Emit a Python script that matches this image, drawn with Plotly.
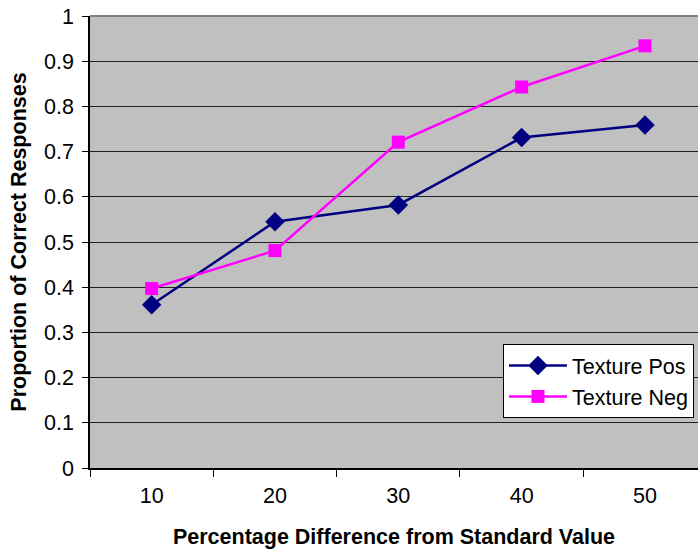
import plotly.graph_objects as go

# Percentage difference from standard value (categories)
pct_diff = [10, 20, 30, 40, 50]
texture_pos = [0.361, 0.545, 0.582, 0.731, 0.759]
texture_neg = [0.397, 0.481, 0.721, 0.843, 0.934]
y_ticks = [0, 0.1, 0.2, 0.3, 0.4, 0.5, 0.6, 0.7, 0.8, 0.9, 1]
y_tick_labels = ["0", "0.1", "0.2", "0.3", "0.4", "0.5", "0.6", "0.7", "0.8", "0.9", "1"]

FONT = "Liberation Sans, Arial, sans-serif"
FS = 21.5

fig = go.Figure()
fig.add_trace(go.Scatter(
    x=pct_diff, y=texture_pos, name="Texture Pos", mode="lines+markers",
    line=dict(color="#000080", width=2.5),
    marker=dict(symbol="diamond", size=15, color="#000080"),
))
fig.add_trace(go.Scatter(
    x=pct_diff, y=texture_neg, name="Texture Neg", mode="lines+markers",
    line=dict(color="#FF00FF", width=2.5),
    marker=dict(symbol="square", size=13, color="#FF00FF"),
))

fig.update_layout(
    width=698, height=553,
    margin=dict(l=90, r=0, t=16, b=85),
    paper_bgcolor="white",
    plot_bgcolor="#C0C0C0",
    font=dict(family=FONT, size=FS, color="black"),
    showlegend=True,
    legend=dict(
        x=0.9934, y=0.2743, xanchor="right", yanchor="top",
        bgcolor="white", bordercolor="black", borderwidth=1,
        font=dict(family=FONT, size=FS, color="black"),
        tracegroupgap=0, itemwidth=58,
    ),
    xaxis=dict(
        range=[5, 54.3],
        tickmode="array", tickvals=pct_diff, ticktext=[str(v) for v in pct_diff],
        ticks="outside", ticklen=7, tickcolor="rgba(0,0,0,0)",
        showgrid=False, zeroline=False,
        showline=True, linecolor="black", linewidth=1.5,
        minor=dict(tick0=5, dtick=10, ticks="outside", ticklen=7,
                   tickcolor="black", tickwidth=1, showgrid=False),
        title=dict(text="<b>Percentage Difference from Standard Value</b>",
                   font=dict(family=FONT, size=FS), standoff=22),
    ),
    yaxis=dict(
        range=[0, 1],
        tickmode="array", tickvals=y_ticks, ticktext=y_tick_labels,
        ticks="outside", ticklen=6, tickcolor="black", tickwidth=1,
        showgrid=True, gridcolor="#202020", gridwidth=1,
        zeroline=False,
        showline=True, linecolor="black", linewidth=1.5,
        ticklabelstandoff=4,
        title=dict(text="<b>Proportion of Correct Responses</b>",
                   font=dict(family=FONT, size=FS), standoff=12),
    ),
)

# Plot-area border on top
fig.add_shape(type="line", xref="paper", yref="paper", x0=0, x1=1, y0=1, y1=1,
              line=dict(color="#808080", width=2))

fig.write_html("out.html")
